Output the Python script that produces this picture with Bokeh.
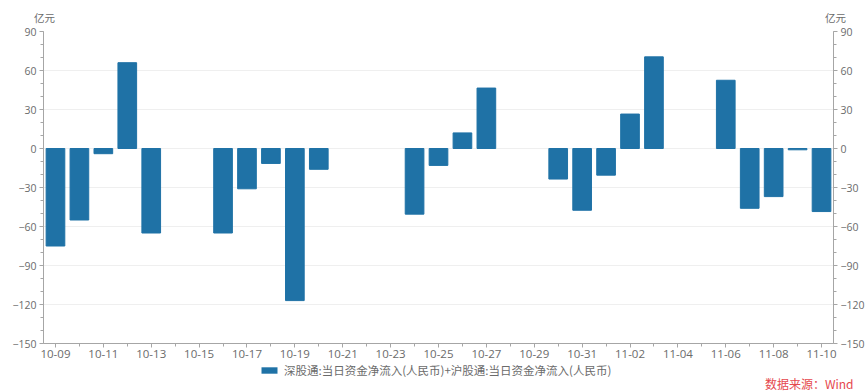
from bokeh.plotting import figure
from bokeh.layouts import column
from bokeh.models import (FixedTicker, LinearAxis, Label, Legend, LegendItem,
                          Range1d, ColumnDataSource)
from bokeh.embed import file_html
from bokeh.resources import INLINE

# ---- data ----
calendar_days = ["10-09", "10-10", "10-11", "10-12", "10-13", "10-14", "10-15",
                 "10-16", "10-17", "10-18", "10-19", "10-20", "10-21", "10-22",
                 "10-23", "10-24", "10-25", "10-26", "10-27", "10-28", "10-29",
                 "10-30", "10-31", "11-01", "11-02", "11-03", "11-04", "11-05",
                 "11-06", "11-07", "11-08", "11-09", "11-10"]
trade_dates = ["10-09", "10-10", "10-11", "10-12", "10-13",
               "10-16", "10-17", "10-18", "10-19", "10-20",
               "10-24", "10-25", "10-26", "10-27",
               "10-30", "10-31", "11-01", "11-02", "11-03",
               "11-06", "11-07", "11-08", "11-09", "11-10"]
net_inflow = [-75, -55, -4, 66, -65,
              -65, -31, -11.5, -117, -16,
              -50.5, -13, 12, 46.5,
              -23.5, -47.5, -20.5, 26.5, 70.5,
              52.5, -46, -37, -1, -48.5]
y_ticks = [-150, -120, -90, -60, -30, 0, 30, 60, 90]
series_name = "深股通:当日资金净流入(人民币)+沪股通:当日资金净流入(人民币)"
unit_label = "亿元"
source_text = "数据来源：Wind"

x_pos = [calendar_days.index(d) for d in trade_dates]
src = ColumnDataSource(dict(x=x_pos, y=net_inflow, d=trade_dates))

BAR = "#1f72a6"
AX = "#a6a6a6"
TXT = "#6b6b6b"
NUM_FONT = "Open Sans"
CJK_FONT = "Noto Sans CJK SC"
W = 867

# ---- top strip: unit labels ----
top = figure(width=W, height=24, output_backend="svg", toolbar_location=None,
             x_range=Range1d(0, W), y_range=Range1d(0, 24),
             x_axis_type=None, y_axis_type=None, min_border=0,
             outline_line_color=None, frame_align=False)
for xx in (44, 835):
    top.add_layout(Label(x=xx, y=7, text=unit_label, text_align="center",
                         text_baseline="middle", text_font=CJK_FONT,
                         text_font_size="10.5px", text_color=TXT))

# ---- main chart ----
p = figure(width=W, height=339, output_backend="svg", toolbar_location=None,
           x_range=Range1d(-0.5, len(calendar_days) - 0.5),
           y_range=Range1d(-150, 90),
           min_border_left=43, min_border_right=34, min_border_top=7,
           min_border_bottom=20, outline_line_color=None, frame_align=False,
           background_fill_color="white", border_fill_color="white")

r = p.vbar(x="x", top="y", bottom=0, width=0.78, source=src,
           fill_color=BAR, line_color=BAR)

xa = p.xaxis[0]
xa.ticker = FixedTicker(ticks=list(range(0, len(calendar_days), 2)),
                        minor_ticks=list(range(len(calendar_days))))
xa.major_label_overrides = {i: calendar_days[i] for i in range(0, len(calendar_days), 2)}
xa.axis_line_color = AX
xa.major_tick_line_color = AX
xa.minor_tick_line_color = AX
xa.major_tick_out = 4
xa.major_tick_in = 0
xa.minor_tick_out = 3
xa.minor_tick_in = 0
xa.major_label_standoff = 2
xa.major_label_text_font = NUM_FONT
xa.major_label_text_font_size = "11.5px"
xa.major_label_text_color = TXT

ya = p.yaxis[0]
ra = LinearAxis()
p.add_layout(ra, "right")
for ax in (ya, ra):
    ax.ticker = FixedTicker(ticks=y_ticks, minor_ticks=list(range(-150, 91, 10)))
    ax.axis_line_color = AX
    ax.major_tick_line_color = AX
    ax.minor_tick_line_color = AX
    ax.major_tick_out = 4
    ax.major_tick_in = 0
    ax.minor_tick_out = 3
    ax.minor_tick_in = 0
    ax.major_label_standoff = 3
    ax.major_label_text_font = NUM_FONT
    ax.major_label_text_font_size = "10.5px"
    ax.major_label_text_color = TXT

p.xgrid.visible = False
p.ygrid.ticker = FixedTicker(ticks=y_ticks)
p.ygrid.grid_line_color = "#efefef"

# ---- bottom strip: legend + source ----
bot = figure(width=W, height=29, output_backend="svg", toolbar_location=None,
             x_range=Range1d(0, W), y_range=Range1d(0, 29),
             x_axis_type=None, y_axis_type=None, min_border=0,
             outline_line_color=None, frame_align=False)
# legend key only (zero-size, not visible as a mark)
key = bot.vbar(x=[0], top=[0], bottom=[0], width=0, fill_color=BAR,
               line_color=None)
legend = Legend(items=[LegendItem(label=series_name, renderers=[key])],
                location=(259, 14), orientation="horizontal",
                glyph_width=20, glyph_height=8, label_text_font=CJK_FONT,
                label_text_font_size="11.5px", label_text_color=TXT,
                label_height=10, label_standoff=5, margin=0, padding=0,
                spacing=0, border_line_color=None, background_fill_alpha=0)
bot.add_layout(legend, "center")
bot.add_layout(Label(x=853, y=9, text=source_text, text_align="right",
                     text_baseline="middle", text_font=CJK_FONT,
                     text_font_size="12px", text_color="#e5474d"))

layout = column(top, p, bot, spacing=0)
open("out.html", "w").write(file_html(layout, INLINE))
